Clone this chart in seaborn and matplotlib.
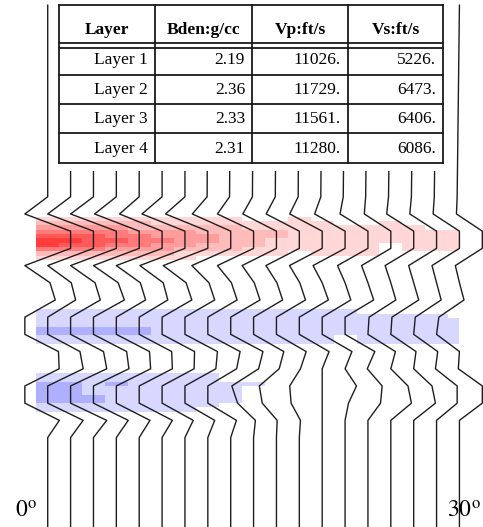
import numpy as np
import pandas as pd
import matplotlib
matplotlib.use("Agg")
import matplotlib.pyplot as plt
from matplotlib.colors import ListedColormap, BoundaryNorm
import seaborn as sns

sns.set_theme(style="white")
plt.rcParams["font.family"] = ["Liberation Serif", "DejaVu Serif"]
plt.rcParams["mathtext.fontset"] = "stix"

# ---- layer model table ----
table_headers = ["Layer", "Bden:g/cc", "Vp:ft/s", "Vs:ft/s"]
layer_names = ["Layer 1", "Layer 2", "Layer 3", "Layer 4"]
bulk_density = ["2.19", "2.36", "2.33", "2.31"]
vp_fts = ["11026.", "11729.", "11561.", "11280."]
vs_fts = ["5226.", "6473.", "6406.", "6086."]

# ---- angle gather: 19 traces, 0 to 30 degrees ----
n_traces = 19
angle_labels = ["0", "30"]

# wiggle amplitude per time sample (one value per trace, in trace spacings, clipped at +/-1)
amp_s00 = [0, 0, 0, 0, 0, 0, 0, -0.03, -0.05, -0.05, -0.05, -0.05, -0.06, -0.08, -0.1, -0.1, -0.1, -0.1, -0.1]
amp_s01 = [-1, -1, -1, -0.95, -0.86, -0.88, -0.85, -0.68, -0.58, -0.47, -0.45, -0.42, -0.33, -0.22, -0.16, -0.18, -0.17, -0.15, -0.13]
amp_s02 = [1] * 19
amp_s03 = [1] * 19
amp_s04 = [-1, -1, -1, -1, -1, -0.97, -0.95, -0.70, -0.58, -0.50, -0.46, -0.43, -0.40, -0.33, -0.28, -0.25, -0.22, -0.20, -0.18]
amp_s05 = [0.10, 0.03, 0.07, 0.08, 0.05, 0.05, 0.05, 0.05, 0.03, 0.03, 0.02, 0.02, 0, 0, 0, 0, 0, 0, 0]
amp_s06 = [0.33, 0.22, 0.30, 0.35, 0.28, 0.25, 0.30, 0.30, 0.28, 0.28, 0.27, 0.27, 0.27, 0.25, 0.25, 0.22, 0.22, 0.20, 0.20]
amp_s07 = [-1, -1, -1, -1, -1, -1, -1, -1, -1, -1, -1, -1, -1, -1, -1, -0.95, -0.95, -0.93, -0.90]
amp_s08 = [-1] * 19
amp_s09 = [0.47, 0.41, 0.44, 0.45, 0.45, 0.42, 0.42, 0.42, 0.41, 0.41, 0.32, 0.30, 0.30, 0.30, 0.30, 0.20, 0.10, 0.05, 0]
amp_s10 = [0.50, 0.55, 0.58, 0.55, 0.50, 0.45, 0.40, 0.35, 0.26, 0.22, 0.12, 0.05, 0, 0, -0.03, 0, 0, -0.05, -0.05]
amp_s11 = [-1, -1, -1, -1, -1, -1, -1, -1, -1, -0.95, -0.75, -0.42, 0, 0.50, 0.62, 0.75, 0.80, 0.90, 1.0]
amp_s12 = [-1, -1, -1, -1, -1, -1, -1, -1, -1, -0.70, -0.62, -0.36, 0, 0.15, 0.55, 0.90, 0.95, 0.90, 1.0]
amp_s13 = [0.51, 0.55, 0.58, 0.52, 0.47, 0.45, 0.36, 0.30, 0.25, 0.08, 0.03, 0.05, 0, 0, 0, 0, 0, 0, 0]
amp_s14 = [0] * 19

sample_times = list(range(15))
record_start = -11.15
record_end = 19.4

# ---- background amplitude shading (quantised levels; + red, - blue) ----
red_edges = [1.17, 1.42, 1.67, 1.92, 2.17, 2.42, 2.67, 2.92, 3.17, 3.42, 3.67]
red_band = [
    [1, 1, 1, 1, 1, 1, 1, 1, 1, 0, 0, 1, 0, 0, 0, 0, 0, 0, 0],
    [2, 2, 2, 2, 2, 1, 1, 1, 1, 1, 1, 1, 1, 0, 0, 1, 0, 0, 0],
    [3, 3, 3, 3, 2, 2, 2, 2, 2, 1, 1, 1, 1, 1, 1, 1, 1, 0, 0],
    [4, 4, 4, 4, 3, 3, 3, 2, 2, 2, 2, 1, 1, 1, 1, 1, 1, 1, 1],
    [5, 5, 5, 4, 4, 3, 3, 3, 2, 2, 2, 1, 1, 1, 1, 1, 1, 1, 1],
    [6, 6, 5, 5, 4, 4, 3, 3, 2, 2, 1, 1, 1, 1, 1, 1, 1, 1, 1],
    [6, 5, 5, 4, 4, 3, 3, 2, 2, 2, 1, 1, 1, 1, 1, 0, 1, 1, 1],
    [4, 4, 4, 3, 3, 3, 2, 2, 2, 1, 1, 1, 1, 1, 1, 0, 1, 1, 1],
    [2, 2, 2, 2, 2, 2, 1, 1, 1, 1, 1, 0, 1, 1, 1, 0, 0, 0, 0],
    [1, 1, 1, 1, 1, 1, 1, 0, 0, 0, 0, 0, 0, 0, 0, 0, 0, 0, 0],
]
blue_upper_edges = [6.55, 6.80, 7.05, 7.30, 7.55, 7.80, 8.05, 8.30, 8.55]
blue_upper_band = [
    [-1, -1, -1, -1, -1, -1, -1, -1, -1, -1, -1, -1, -1, -1, 0, 0, 0, 0, 0],
    [-1, -1, -1, -1, -1, -1, -1, -1, -1, -1, -1, -1, -1, -1, -1, -1, -1, -1, 0],
    [-1] * 19,
    [-1] * 19,
    [-2, -2, -2, -2, -2, -1, -1, -1, -1, -1, -1, -1, -1, -1, -1, -1, -1, -1, -1],
    [-2, -2, -2, -2, -2, -1, -1, -1, -1, -1, -1, -1, -1, -1, -1, -1, -1, -1, -1],
    [-1, -1, -1, -1, -1, -1, -1, -1, -1, -1, -1, -1, -1, 0, -1, -1, -1, -1, -1],
    [-1, -1, -1, -1, -1, -1, -1, -1, -1, -1, -1, -1, -1, 0, -1, -1, -1, -1, -1],
]
blue_lower_edges = [10.25, 10.50, 10.75, 11.00, 11.25, 11.50, 11.75, 12.00, 12.25, 12.50]
blue_lower_band = [
    [-1, -1, -1, -1, -1, -1, -1, -1, 0, 0] + [0] * 9,
    [-1, -1, -1, -1, -1, -1, -1, -1, 0, 0] + [0] * 9,
    [-2, -2, -1, -2, -1, -1, -1, -1, -1, -1] + [0] * 9,
    [-2, -2, -1, -1, -1, -1, -1, -1, -1, 0] + [0] * 9,
    [-2, -2, -1, -1, -1, -1, -1, -1, -1, 0] + [0] * 9,
    [-2, -2, -2, -1, -1, -1, -1, -1, -1, 0] + [0] * 9,
    [-2, -2, -2, -1, -1, -1, -1, -1, -1, 0] + [0] * 9,
    [-1, -1, -1, -1, -1, -1, -1, -1, 0, 0] + [0] * 9,
    [-1, -1, -1, -1, -1, -1, -1, 0, 0, 0] + [0] * 9,
]

# ---- assemble the wiggle traces in long form ----
amp_rows = [amp_s00, amp_s01, amp_s02, amp_s03, amp_s04, amp_s05, amp_s06, amp_s07,
            amp_s08, amp_s09, amp_s10, amp_s11, amp_s12, amp_s13, amp_s14]
records = []
for tr in range(n_traces):
    records.append((tr, record_start, float(tr)))
    for t, row in zip(sample_times, amp_rows):
        records.append((tr, t, tr + row[tr]))
    records.append((tr, record_end, float(tr)))
wiggles = pd.DataFrame(records, columns=["trace", "time", "x"])

W, H = 483, 527
fig = plt.figure(figsize=(W / 100, H / 100), dpi=100)
ax = fig.add_axes([0, 0, 1, 1])

# shading colours: two blues, then six reds
shade_colors = ["#afafff", "#d7d7ff", "#ffffff", "#ffd7d7", "#ffbaba", "#ff9c9c",
                "#ff7a7a", "#ff5a5a", "#ff3c3c"]
cmap = ListedColormap(shade_colors)
norm = BoundaryNorm(np.arange(-2.5, 7.5, 1.0), cmap.N)
col_edges = list(np.arange(-0.5, n_traces - 1, 1.0)) + [n_traces - 1.0]

for edges, band in [(red_edges, red_band), (blue_upper_edges, blue_upper_band),
                    (blue_lower_edges, blue_lower_band)]:
    grid = np.ma.masked_equal(np.array(band, dtype=float), 0)
    ax.pcolormesh(col_edges, edges, grid, cmap=cmap, norm=norm,
                  shading="flat", antialiased=False, linewidth=0, zorder=0)

sns.lineplot(data=wiggles, x="x", y="time", units="trace", estimator=None,
             sort=False, color="#1e1e1e", linewidth=1.0, ax=ax, zorder=2,
             legend=False)

ax.set_xlim(-2.086, 19.03)
ax.set_ylim(19.2, -11.44)
ax.set_axis_off()

ax.text(-1.45, 18.68, r"$%s^{\rm o}$" % angle_labels[0], fontsize=17,
        ha="left", va="baseline", color="black")
ax.text(17.45, 18.68, r"$%s^{\rm o}$" % angle_labels[1], fontsize=17,
        ha="left", va="baseline", color="black")

# ---- property table drawn over the top of the gather ----
tax = fig.add_axes([52 / W, 1 - 171 / H, (455 - 52) / W, 171 / H])
tax.set_facecolor("white")
tax.set_xlim(52, 455)
tax.set_ylim(171, 0)
tax.set_xticks([])
tax.set_yticks([])
for sp in tax.spines.values():
    sp.set_visible(False)

col_x = [59, 155, 252, 348, 443]
row_y = [5, 42.7, 48.3, 75, 104, 133.3, 163.3]
line_kw = dict(color="#1a1a1a", linewidth=1.3, solid_capstyle="projecting")
for cx in col_x:
    tax.plot([cx, cx], [row_y[0], row_y[-1]], **line_kw)
for ry in row_y:
    tax.plot([col_x[0], col_x[-1]], [ry, ry], **line_kw)

for j, head in enumerate(table_headers):
    tax.text((col_x[j] + col_x[j + 1]) / 2, row_y[1] - 8.5, head, ha="center",
             va="baseline", fontsize=12.5, fontweight="bold", color="black")

columns = [layer_names, bulk_density, vp_fts, vs_fts]
for j, col in enumerate(columns):
    for i, val in enumerate(col):
        tax.text(col_x[j + 1] - 7, row_y[i + 3] - 10.5, val, ha="right",
                 va="baseline", fontsize=12.5, color="black")

fig.savefig("out.png", dpi=100, facecolor="white")
